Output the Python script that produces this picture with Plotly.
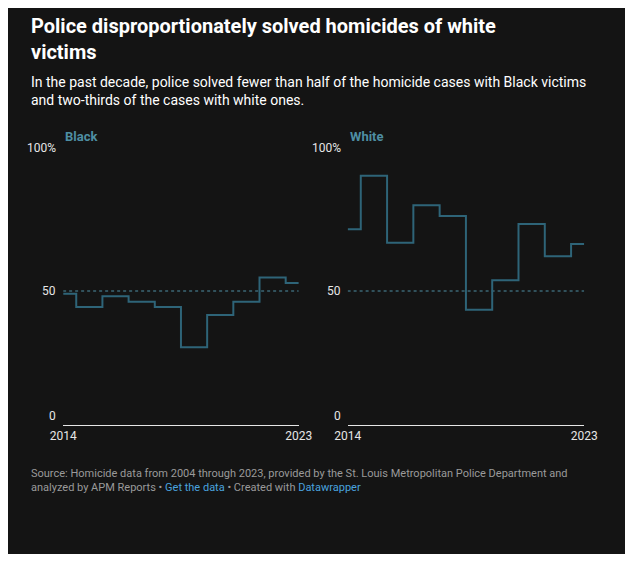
import plotly.graph_objects as go

years = list(range(2014, 2024))
black = [49, 44, 48, 46, 44, 29, 41, 46, 55, 53]
white = [73, 93, 68, 82, 78, 43, 54, 75, 63, 67.5]
panels = ["Black", "White"]
ytick_vals = [0, 50, 100]
ytick_text = ["0", "50", "100%"]

# the page adds an 8px body margin, so draw in a slightly smaller figure
OFF = 8
W, H = 633 - 2 * OFF, 562 - 2 * OFF
line_col = "#2e6478"
label_col = "#4e8ea3"
bg = "#141414"


def px(x):
    return (x - OFF) / W


def py(y):
    return 1 - (y - OFF) / H


fig = go.Figure()
doms = [(52, 298), (349, 596)]
ydom = [py(425), py(157)]

for i, (name, vals) in enumerate(zip(panels, [black, white])):
    n = "" if i == 0 else str(i + 1)
    fig.add_trace(go.Scatter(x=years, y=vals, mode="lines", line=dict(shape="hvh", color=line_col, width=2),
                             xaxis="x" + n, yaxis="y" + n, hoverinfo="x+y", showlegend=False))
    x0, x1 = doms[i]
    fig.update_layout(**{
        "xaxis" + n: dict(domain=[px(x0), px(x1)], range=[2014, 2023], tickvals=[2014, 2023],
                          ticktext=["2014", "2023"], showgrid=False, zeroline=False,
                          showline=True, linecolor="#e6e6e6", linewidth=1, ticklen=0,
                          tickfont=dict(color="#e6e6e6", size=12, family="Roboto"),
                          anchor="y" + n, fixedrange=True),
        "yaxis" + n: dict(domain=ydom, range=[0, 100], tickvals=ytick_vals, ticktext=ytick_text,
                          showgrid=False, zeroline=False, showticklabels=False,
                          anchor="x" + n, fixedrange=True),
    })
    xr = "x" + n
    yr = "y" + n
    fig.add_shape(type="line", xref=xr, yref=yr, x0=2014, x1=2023, y0=50, y1=50,
                  line=dict(color=label_col, width=1, dash="dot"), layer="below")
    for v, t in zip(ytick_vals, ytick_text):
        fig.add_annotation(xref="paper", yref=yr, x=px(x0 - 5), y=v, text=t, showarrow=False,
                           xanchor="right", yanchor="middle" if v == 50 else "bottom",
                           font=dict(color="#e6e6e6", size=12, family="Roboto"))
    fig.add_annotation(xref="paper", yref="paper", x=px(x0), y=py(136), text="<b>" + name + "</b>",
                       showarrow=False, xanchor="left", yanchor="middle",
                       font=dict(color=label_col, size=13, family="Roboto"))

fig.add_annotation(xref="paper", yref="paper", x=px(16), y=py(12), align="left",
                   text="<b>Police disproportionately solved homicides of white<br>victims</b>",
                   showarrow=False, xanchor="left", yanchor="top",
                   font=dict(color="#ffffff", size=20, family="Roboto"))
fig.add_annotation(xref="paper", yref="paper", x=px(16), y=py(72), align="left",
                   text="In the past decade, police solved fewer than half of the homicide cases with Black victims<br>and two-thirds of the cases with white ones.",
                   showarrow=False, xanchor="left", yanchor="top",
                   font=dict(color="#ffffff", size=14, family="Roboto"))
fig.add_annotation(xref="paper", yref="paper", x=px(16), y=py(465), align="left",
                   text="Source: Homicide data from 2004 through 2023, provided by the St. Louis Metropolitan Police Department and<br>"
                        "analyzed by APM Reports • <span style='color:#4aa3df'>Get the data</span> • Created with <span style='color:#4aa3df'>Datawrapper</span>",
                   showarrow=False, xanchor="left", yanchor="top",
                   font=dict(color="#9a9a9a", size=11, family="Roboto"))

fig.update_layout(width=W, height=H, margin=dict(l=0, r=0, t=0, b=0),
                  paper_bgcolor=bg, plot_bgcolor=bg)
fig.write_html("out.html")
